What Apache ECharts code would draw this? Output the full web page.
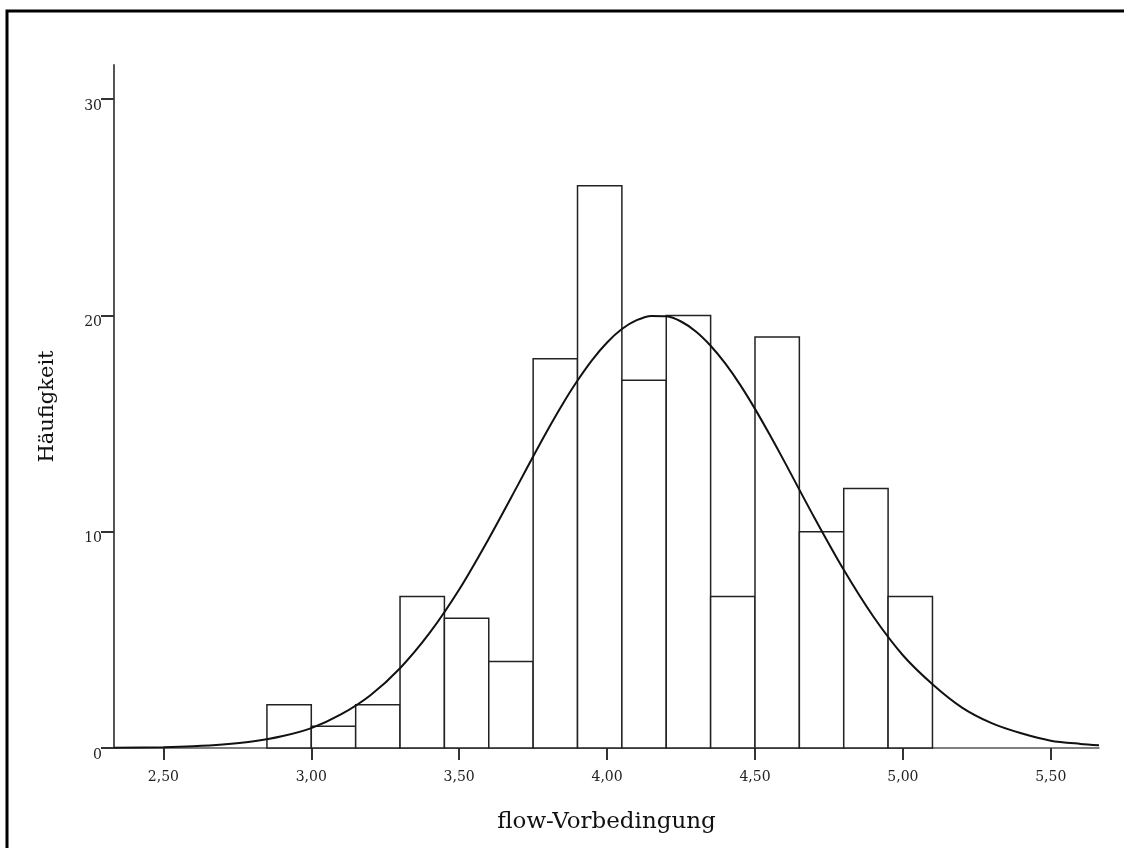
<!DOCTYPE html>
<html>
<head>
<meta charset="utf-8">
<script src="https://cdn.jsdelivr.net/npm/echarts@6/dist/echarts.min.js"></script>
<style>
  html, body { margin: 0; padding: 0; background: #fff; }
  #chart { width: 1124px; height: 848px; }
</style>
</head>
<body>
<div id="chart"></div>
<script>
// histogram bins (lower edges, width 0.15) and counts
var binStarts = [2.85, 3.00, 3.15, 3.30, 3.45, 3.60, 3.75, 3.90, 4.05, 4.20, 4.35, 4.50, 4.65, 4.80, 4.95];
var binWidth = 0.15;
var counts = [2, 1, 2, 7, 6, 4, 18, 26, 17, 20, 7, 19, 10, 12, 7];

// normal curve
var curveX = [2.333, 2.5, 2.6, 2.7, 2.8, 2.9, 3.0, 3.1, 3.2, 3.3, 3.4, 3.5, 3.6, 3.7, 3.75, 3.8, 3.85, 3.9, 3.95,
  4.0, 4.05, 4.1, 4.15, 4.2, 4.25, 4.3, 4.35, 4.4, 4.45, 4.5, 4.55, 4.6, 4.7, 4.8, 4.9, 5.0, 5.1, 5.2, 5.3, 5.4, 5.5, 5.6, 5.663];
var curveY = [0.01, 0.04, 0.08, 0.16, 0.30, 0.54, 0.92, 1.55, 2.44, 3.69, 5.32, 7.33, 9.68, 12.2, 13.48, 14.73, 15.91, 16.99, 17.95,
  18.75, 19.37, 19.78, 19.98, 19.96, 19.72, 19.26, 18.60, 17.77, 16.79, 15.68, 14.48, 13.23, 10.67, 8.24, 6.08, 4.29, 2.95, 1.87, 1.15, 0.68, 0.34, 0.19, 0.13];

var xTicks = [2.5, 3.0, 3.5, 4.0, 4.5, 5.0, 5.5];
var yTicks = [0, 10, 20, 30];

var bars = binStarts.map(function (s, i) { return [s, s + binWidth, counts[i]]; });
var curve = curveX.map(function (x, i) { return [x, curveY[i]]; });

var serif = '"DejaVu Serif", "Liberation Serif", serif';

var chart = echarts.init(document.getElementById('chart'));
chart.setOption({
  animation: false,
  backgroundColor: '#fff',
  graphic: [{
    type: 'rect',
    shape: { x: 7, y: 11, width: 1200, height: 900 },
    style: { fill: 'none', stroke: '#000', lineWidth: 3 },
    silent: true
  }],
  grid: { left: 114, right: 25, top: 65, bottom: 100 },
  xAxis: {
    type: 'value',
    min: 2.333,
    max: 5.663,
    name: 'flow-Vorbedingung',
    nameLocation: 'middle',
    nameGap: 63,
    nameTextStyle: { fontFamily: serif, fontSize: 23, color: '#111' },
    splitLine: { show: false },
    axisLine: { lineStyle: { color: '#555', width: 1.5 } },
    axisTick: { customValues: xTicks, length: 12, lineStyle: { color: '#333', width: 2 } },
    axisLabel: {
      customValues: xTicks,
      margin: 22,
      fontFamily: serif,
      fontSize: 14,
      color: '#222',
      formatter: function (v) { return v.toFixed(2).replace('.', ','); }
    }
  },
  yAxis: {
    type: 'value',
    min: 0,
    max: 31.58,
    name: 'Häufigkeit',
    nameLocation: 'middle',
    nameGap: 56,
    nameRotate: 90,
    nameTextStyle: { fontFamily: serif, fontSize: 21, color: '#111' },
    splitLine: { show: false },
    axisLine: { show: true, lineStyle: { color: '#555', width: 2 } },
    axisTick: { show: true, customValues: yTicks, length: 13, lineStyle: { color: '#333', width: 2 } },
    axisLabel: {
      customValues: yTicks,
      margin: 12,
      fontFamily: serif,
      fontSize: 14,
      color: '#222',
      verticalAlign: 'top'
    }
  },
  series: [{
    type: 'custom',
    data: bars,
    z: 2,
    renderItem: function (params, api) {
      var p0 = api.coord([api.value(0), api.value(2)]);
      var p1 = api.coord([api.value(1), 0]);
      return {
        type: 'rect',
        shape: { x: p0[0], y: p0[1], width: p1[0] - p0[0], height: p1[1] - p0[1] },
        style: { fill: '#fff', stroke: '#222', lineWidth: 1.5 }
      };
    }
  }, {
    type: 'line',
    data: curve,
    smooth: 0.3,
    showSymbol: false,
    z: 3,
    lineStyle: { color: '#111', width: 2 }
  }]
});
</script>
</body>
</html>
